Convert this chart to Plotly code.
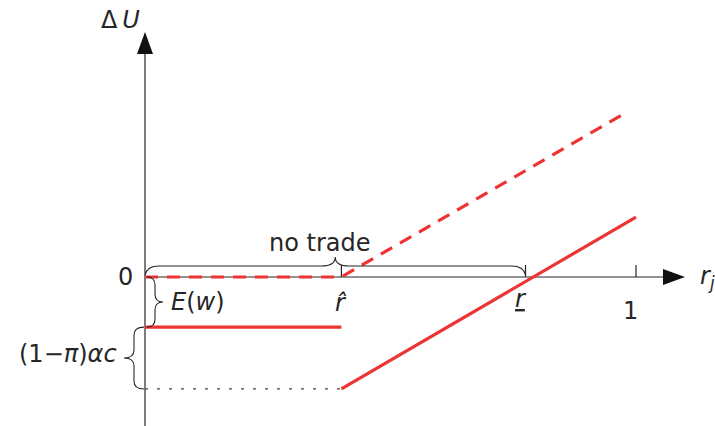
import plotly.graph_objects as go

# values (x in units of r_j, y in units of ΔU)
r_hat = 0.4
r_low = 0.775
ew_level = -0.102          # -E(w)
low_level = -0.228         # -E(w) - (1-pi)*alpha*c
dash_x = [0.0, r_hat, 0.982]
dash_y = [0.0, 0.0, 0.336]
flat_x = [0.0, r_hat]
flat_y = [ew_level, ew_level]
rise_x = [r_hat, 1.0]
rise_y = [low_level, 0.122]
tick_vals = [r_hat, r_low, 1.0]

RED = "#ee3333"
INK = "#262626"
px = 1 / 491.0   # one pixel in data units

fig = go.Figure()
fig.add_trace(go.Scatter(x=[0, r_hat], y=[low_level, low_level], mode="lines",
                         line=dict(color="#444", width=1.3, dash="3px,9px")))
fig.add_trace(go.Scatter(x=flat_x, y=flat_y, mode="lines", line=dict(color=RED, width=3.2)))
fig.add_trace(go.Scatter(x=rise_x, y=rise_y, mode="lines", line=dict(color=RED, width=3.2)))
fig.add_trace(go.Scatter(x=dash_x, y=dash_y, mode="lines",
                         line=dict(color=RED, width=3.2, dash="13px,9px")))

# axes
fig.add_shape(type="line", x0=0, x1=518 * px, y0=0, y1=0, line=dict(color=INK, width=1.2), layer="below")
fig.add_shape(type="line", x0=0, x1=0, y0=-0.31, y1=223 * px, line=dict(color=INK, width=1.2), layer="below")
fig.add_shape(type="path", path=f"M {518*px},{8*px} L {540*px},0 L {518*px},{-8*px} Z",
              fillcolor="#111", line=dict(width=0))
fig.add_shape(type="path", path=f"M {-8*px},{223*px} L 0,{245*px} L {8*px},{223*px} Z",
              fillcolor="#111", line=dict(width=0))
for t in tick_vals:
    fig.add_shape(type="line", x0=t, x1=t, y0=0, y1=12 * px, line=dict(color=INK, width=1.2), layer="below")


def hbrace(x0, x1, y, h):
    xm = (x0 + x1) / 2
    q = 14 * px
    return (f"M {x0},{y} Q {x0 + 2*px},{y + h/2} {x0 + q},{y + h/2} "
            f"L {xm - q},{y + h/2} Q {xm},{y + h/2} {xm},{y + h} "
            f"Q {xm},{y + h/2} {xm + q},{y + h/2} L {x1 - q},{y + h/2} "
            f"Q {x1 - 2*px},{y + h/2} {x1},{y}")


def vbrace(y0, y1, x, w):
    ym = (y0 + y1) / 2
    q = 8 * px
    return (f"M {x},{y0} Q {x + w/2},{y0} {x + w/2},{y0 - q} "
            f"L {x + w/2},{ym + q} Q {x + w/2},{ym} {x + w},{ym} "
            f"Q {x + w/2},{ym} {x + w/2},{ym - q} L {x + w/2},{y1 + q} "
            f"Q {x + w/2},{y1} {x},{y1}")


bl = dict(color=INK, width=1.1)
fig.add_shape(type="path", path=hbrace(0, r_low, 2 * px, 18 * px), line=bl)
fig.add_shape(type="path", path=vbrace(0, ew_level, 2 * px, 16 * px), line=bl)
fig.add_shape(type="path", path=vbrace(ew_level, low_level, -1 * px, -20 * px), line=bl)

F = "DejaVu Sans, sans-serif"


def label(x, y, text, size=24, xanchor="center"):
    fig.add_annotation(x=x, y=y, text=text, showarrow=False, xanchor=xanchor, yanchor="middle",
                       font=dict(family=F, size=size, color=INK))


label(-10 * px, 0, "0", xanchor="right")
label(r_low / 2 - 15 * px, 34 * px, "no trade")
label(24 * px, -25 * px, "<i>E</i>(<i>w</i>)", xanchor="left")
label(-26 * px, -77 * px, "(1−<i>π</i>)<i>αc</i>", xanchor="right")
label(r_hat, -26 * px, "<i>r̂</i>")
label(r_low - 5 * px, -22 * px, "<u><i>r</i></u>")
label(1.0 - 6 * px, -34 * px, "1")
label(553 * px, 0, "<i>r<sub>j</sub></i>", xanchor="left")
label(-25 * px, 257 * px, "Δ\u2009<i>U</i>")

fig.update_layout(
    width=715, height=426, margin=dict(l=0, r=0, t=0, b=0),
    plot_bgcolor="white", paper_bgcolor="white", showlegend=False,
    xaxis=dict(range=[-145 * px, 570 * px], visible=False, fixedrange=True),
    yaxis=dict(range=[-149 * px, 277 * px], visible=False, fixedrange=True),
)
# drop the default page margin so the 715x426 figure fills the window exactly
fig.write_html("out.html", config={"displayModeBar": False},
               post_script="document.body.style.margin='0';")
